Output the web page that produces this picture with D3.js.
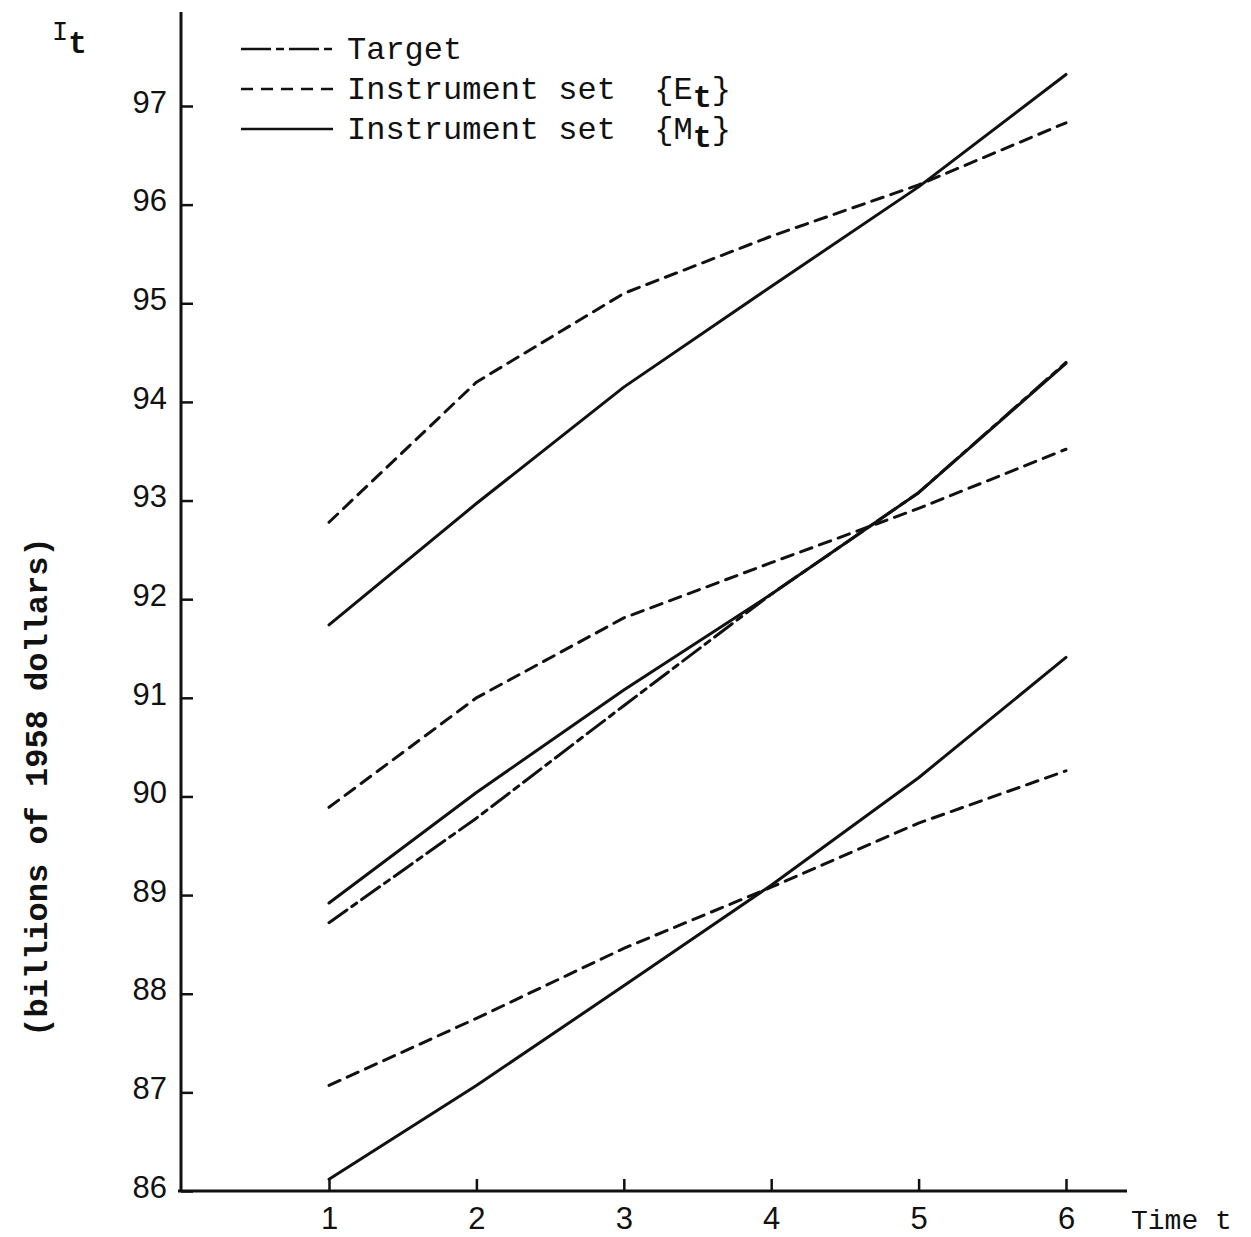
<!DOCTYPE html>
<html>
<head>
<meta charset="utf-8">
<script src="https://cdn.jsdelivr.net/npm/d3@7/dist/d3.min.js"></script>
<style>
    html, body { margin: 0; padding: 0; background: #fff; }
    svg { display: block; }
    .tick text { font-family: "Liberation Sans", Arial, sans-serif; font-size: 31px; fill: #111; }
    .mono { font-family: "Liberation Mono", "DejaVu Sans Mono", monospace; fill: #111; white-space: pre; }
</style>
</head>
<body>
<div id="chart"></div>
<script>
/*global d3: false */
//====================================
//data (I_t, billions of 1958 dollars)
var periods = [1, 2, 3, 4, 5, 6];
var yTicks = [86, 87, 88, 89, 90, 91, 92, 93, 94, 95, 96, 97];

var targetSeries = [88.72, 89.78, 90.92, 92.05, 93.08, 94.40];

//instrument set {E_t} - three runs
var eTop = [92.78, 94.20, 95.10, 95.68, 96.20, 96.83];
var eMid = [89.89, 91.00, 91.81, 92.37, 92.92, 93.52];
var eLow = [87.07, 87.75, 88.46, 89.08, 89.73, 90.26];

//instrument set {M_t} - three runs
var mTop = [91.74, 92.97, 94.15, 95.17, 96.18, 97.32];
var mMid = [88.92, 90.04, 91.08, 92.05, 93.08, 94.39];
var mLow = [86.12, 87.07, 88.08, 89.10, 90.19, 91.41];

var legendItems = [
    {key: 'target', label: 'Target', sub: null},
    {key: 'e', label: 'Instrument set  {E', sub: 'E'},
    {key: 'm', label: 'Instrument set  {M', sub: 'M'}
];

(function(window){
    "use strict";

    var width = 1251;
    var height = 1237;

    //line styles per series kind
    var dashes = {
        target: '22,6,6,6',
        e: '12,8',
        m: null
    };

    var svg = d3.select('#chart').append('svg')
        .attr('width', width)
        .attr('height', height);

    var x = d3.scaleLinear().domain([1, 6]).range([329, 1066]);
    var y = d3.scaleLinear().domain([86, 97]).range([1191, 106]);

    var axisX0 = 181;   //where the vertical axis sits
    var axisY0 = y(86); //where the horizontal axis sits

    //axis lines (drawn by hand, they run past the scales)
    svg.append('line')
        .attr('x1', axisX0).attr('y1', 12)
        .attr('x2', axisX0).attr('y2', axisY0)
        .attr('stroke', '#111').attr('stroke-width', 3);
    svg.append('line')
        .attr('x1', axisX0 - 3).attr('y1', axisY0)
        .attr('x2', 1127).attr('y2', axisY0)
        .attr('stroke', '#111').attr('stroke-width', 3);

    //y axis, ticks point inward
    var yAxis = d3.axisLeft(y)
        .tickValues(yTicks)
        .tickFormat(d3.format('d'))
        .tickSizeInner(-12)
        .tickSizeOuter(0)
        .tickPadding(14);
    var gy = svg.append('g')
        .attr('transform', 'translate(' + axisX0 + ',0)')
        .call(yAxis);
    gy.select('.domain').remove();
    gy.selectAll('.tick line').attr('stroke', '#111').attr('stroke-width', 2.5);
    gy.selectAll('.tick text').attr('dy', '0.2em');

    //x axis, ticks point up
    var xAxis = d3.axisBottom(x)
        .tickValues(periods)
        .tickFormat(d3.format('d'))
        .tickSizeInner(-12)
        .tickSizeOuter(0)
        .tickPadding(16);
    var gx = svg.append('g')
        .attr('transform', 'translate(0,' + axisY0 + ')')
        .call(xAxis);
    gx.select('.domain').remove();
    gx.selectAll('.tick line').attr('stroke', '#111').attr('stroke-width', 2.5);

    svg.append('text')
        .attr('class', 'mono')
        .attr('x', 1131).attr('y', 1229)
        .style('font-size', '28px')
        .text('Time t');

    //axis title I_t
    var it = svg.append('text')
        .attr('class', 'mono')
        .attr('x', 52).attr('y', 40)
        .style('font-size', '27px')
        .text('I');
    it.append('tspan')
        .attr('dx', 0).attr('dy', 13)
        .style('font-size', '31px')
        .style('font-weight', 'bold')
        .text('t');

    svg.append('text')
        .attr('class', 'mono')
        .attr('transform', 'translate(47,787) rotate(-90)')
        .attr('text-anchor', 'middle')
        .style('font-size', '32px')
        .style('font-weight', 'bold')
        .text('(billions of 1958 dollars)');

    //series lines
    var lineGen = d3.line()
        .x(function(d, i){ return x(periods[i]); })
        .y(function(d){ return y(d); });

    var seriesList = [
        {kind: 'e', values: eTop},
        {kind: 'e', values: eMid},
        {kind: 'e', values: eLow},
        {kind: 'm', values: mTop},
        {kind: 'm', values: mMid},
        {kind: 'm', values: mLow},
        {kind: 'target', values: targetSeries}
    ];

    svg.append('g').attr('class', 'lineContainer')
        .selectAll('path')
        .data(seriesList)
        .enter().append('path')
        .attr('d', function(d){ return lineGen(d.values); })
        .attr('fill', 'none')
        .attr('stroke', '#111')
        .attr('stroke-width', 3)
        .attr('stroke-linecap', 'round')
        .attr('stroke-linejoin', 'round')
        .attr('stroke-dasharray', function(d){ return dashes[d.kind]; });

    //legend
    var legend = svg.append('g').attr('class', 'legend');
    var rows = legend.selectAll('g')
        .data(legendItems)
        .enter().append('g')
        .attr('transform', function(d, i){ return 'translate(0,' + (49 + i * 40) + ')'; });

    rows.append('line')
        .attr('x1', 241).attr('x2', 333)
        .attr('y1', 0).attr('y2', 0)
        .attr('stroke', '#111')
        .attr('stroke-width', 2.5)
        .attr('stroke-dasharray', function(d){
            return d.key === 'target' ? '30,5,8,5' : dashes[d.key];
        });

    var labels = rows.append('text')
        .attr('class', 'mono')
        .attr('x', 347).attr('y', 10)
        .attr('xml:space', 'preserve')
        .style('font-size', '32px')
        .text(function(d){ return d.label; });

    labels.filter(function(d){ return d.sub !== null; })
        .append('tspan')
        .attr('dy', 8)
        .style('font-weight', 'bold')
        .text('t');
    labels.filter(function(d){ return d.sub !== null; })
        .append('tspan')
        .attr('dy', -8)
        .text('}');
})(window);
</script>
</body>
</html>
